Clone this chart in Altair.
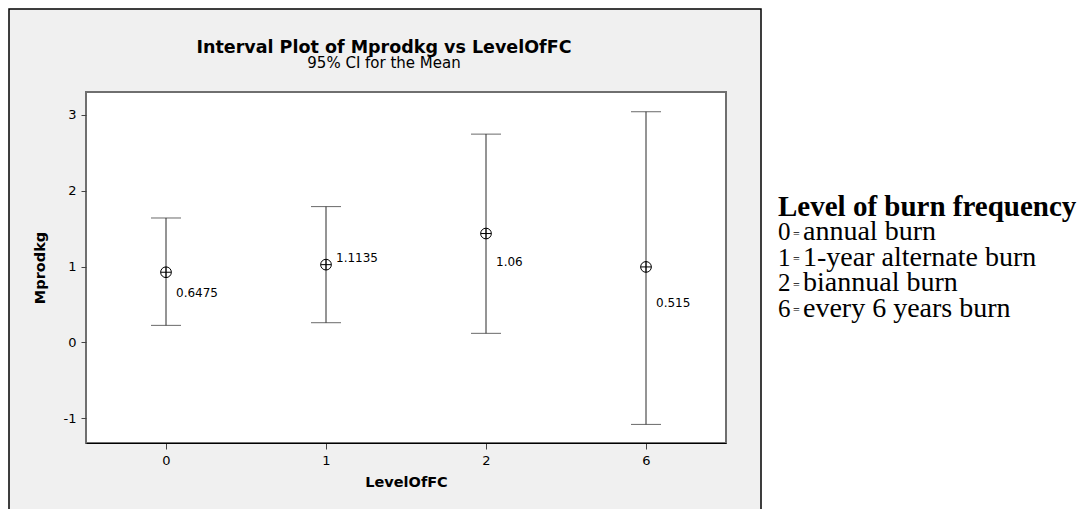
import altair as alt
import pandas as pd

# ---- data ----
levels = ["0", "1", "2", "6"]
means = [0.925, 1.025, 1.435, 0.995]
ci_low = [0.225, 0.26, 0.12, -1.08]
ci_high = [1.64, 1.79, 2.745, 3.04]
label_vals = [0.6475, 1.1135, 1.06, 0.515]
label_text = ["0.6475", "1.1135", "1.06", "0.515"]
y_ticks = [-1, 0, 1, 2, 3]

title_text = "Interval Plot of Mprodkg vs LevelOfFC"
subtitle_text = "95% CI for the Mean"
legend_heading = "Level of burn frequency"
legend_keys = ["0", "1", "2", "6"]
legend_desc = ["annual burn", "1-year alternate burn", "biannual burn", "every 6 years burn"]

df = pd.DataFrame({
    "level": levels,
    "mean": means,
    "lo": ci_low,
    "hi": ci_high,
    "lab": label_vals,
    "labtxt": label_text,
})

W, H = 640, 351
SANS = "DejaVu Sans"
SERIF = "Liberation Serif"

xenc = alt.X("level:O", sort=levels,
             scale=alt.Scale(type="point", padding=0.5),
             axis=alt.Axis(title="LevelOfFC", labelAngle=0, tickSize=6,
                           labelPadding=5, titlePadding=8, domain=True,
                           domainColor="black", domainWidth=1.2, zindex=2))
yscale = alt.Scale(domain=[-1.325, 3.30], nice=False, zero=False)
yaxis = alt.Axis(title="Mprodkg", values=y_ticks, tickSize=5, labelPadding=5,
                 titlePadding=16, domain=False, labelExpr="toString(datum.value)",
                 zindex=2)

one = alt.Data(values=[{"a": 1}])

outer = alt.Chart(one).mark_rect(fill="#f0f0f0", stroke="black", strokeWidth=1.5).encode(
    x=alt.value(-77), x2=alt.value(675), y=alt.value(-83), y2=alt.value(440))

plotbg = alt.Chart(one).mark_rect(fill="white", stroke="#6f6f6f", strokeWidth=2).encode(
    x=alt.value(0), x2=alt.value(W), y=alt.value(0), y2=alt.value(H))

title_m = alt.Chart(one).mark_text(align="center", baseline="alphabetic", font=SANS,
                                   fontSize=17.5, fontWeight="bold", color="black").encode(
    x=alt.value(298), y=alt.value(-39), text=alt.value(title_text))
subtitle_m = alt.Chart(one).mark_text(align="center", baseline="alphabetic", font=SANS,
                                      fontSize=15, color="black").encode(
    x=alt.value(298), y=alt.value(-24), text=alt.value(subtitle_text))

base = alt.Chart(df)

LINE = "#2a2a2a"
rules = base.mark_rule(color=LINE, strokeWidth=1).encode(
    x=xenc, y=alt.Y("lo:Q", scale=yscale, axis=yaxis), y2="hi:Q")

cap_lo = base.mark_tick(color=LINE, size=30, thickness=1, orient="horizontal").encode(
    x=alt.X("level:O", sort=levels), y=alt.Y("lo:Q"))
cap_hi = base.mark_tick(color=LINE, size=30, thickness=1, orient="horizontal").encode(
    x=alt.X("level:O", sort=levels), y=alt.Y("hi:Q"))

sym = "M-1,0A1,1,0,1,1,1,0A1,1,0,1,1,-1,0ZM-1,0L1,0M0,-1L0,1"
points = base.mark_point(shape=sym, size=115, filled=False, stroke="black",
                         strokeWidth=1, opacity=1).encode(
    x=alt.X("level:O", sort=levels), y=alt.Y("mean:Q"))

labels = base.mark_text(align="left", baseline="middle", dx=10, font=SANS,
                        fontSize=12, color="black").encode(
    x=alt.X("level:O", sort=levels), y=alt.Y("lab:Q"), text="labtxt:N")

LX = 692
leg_head = alt.Chart(one).mark_text(align="left", baseline="alphabetic", font=SERIF,
                                    fontSize=29, fontWeight="bold", color="black").encode(
    x=alt.value(LX), y=alt.value(124), text=alt.value(legend_heading))
leg_keys = alt.Chart(one).mark_text(align="left", baseline="alphabetic", font=SERIF,
                                    fontSize=25, lineHeight=25.5, color="black").encode(
    x=alt.value(LX), y=alt.value(148), text=alt.value(legend_keys))
leg_eq = alt.Chart(one).mark_text(align="left", baseline="alphabetic", font=SERIF,
                                  fontSize=12, lineHeight=25.5, color="black").encode(
    x=alt.value(LX + 15), y=alt.value(145.5), text=alt.value(["="] * len(legend_keys)))
leg_desc = alt.Chart(one).mark_text(align="left", baseline="alphabetic", font=SERIF,
                                    fontSize=28, lineHeight=25.5, color="black").encode(
    x=alt.value(LX + 25), y=alt.value(148), text=alt.value(legend_desc))

chart = alt.layer(outer, plotbg, title_m, subtitle_m, rules, cap_lo, cap_hi, points, labels,
                  leg_head, leg_keys, leg_eq, leg_desc).properties(
    width=W, height=H, padding=0, background="white",
).configure_view(stroke=None).configure_axis(
    labelFont=SANS, labelFontSize=13, labelColor="black",
    titleFont=SANS, titleFontSize=14.5, titleFontWeight="bold", titleColor="black",
    tickColor="#444444", grid=False,
)

chart.save("out.html", embed_options={"renderer": "svg", "actions": False})
